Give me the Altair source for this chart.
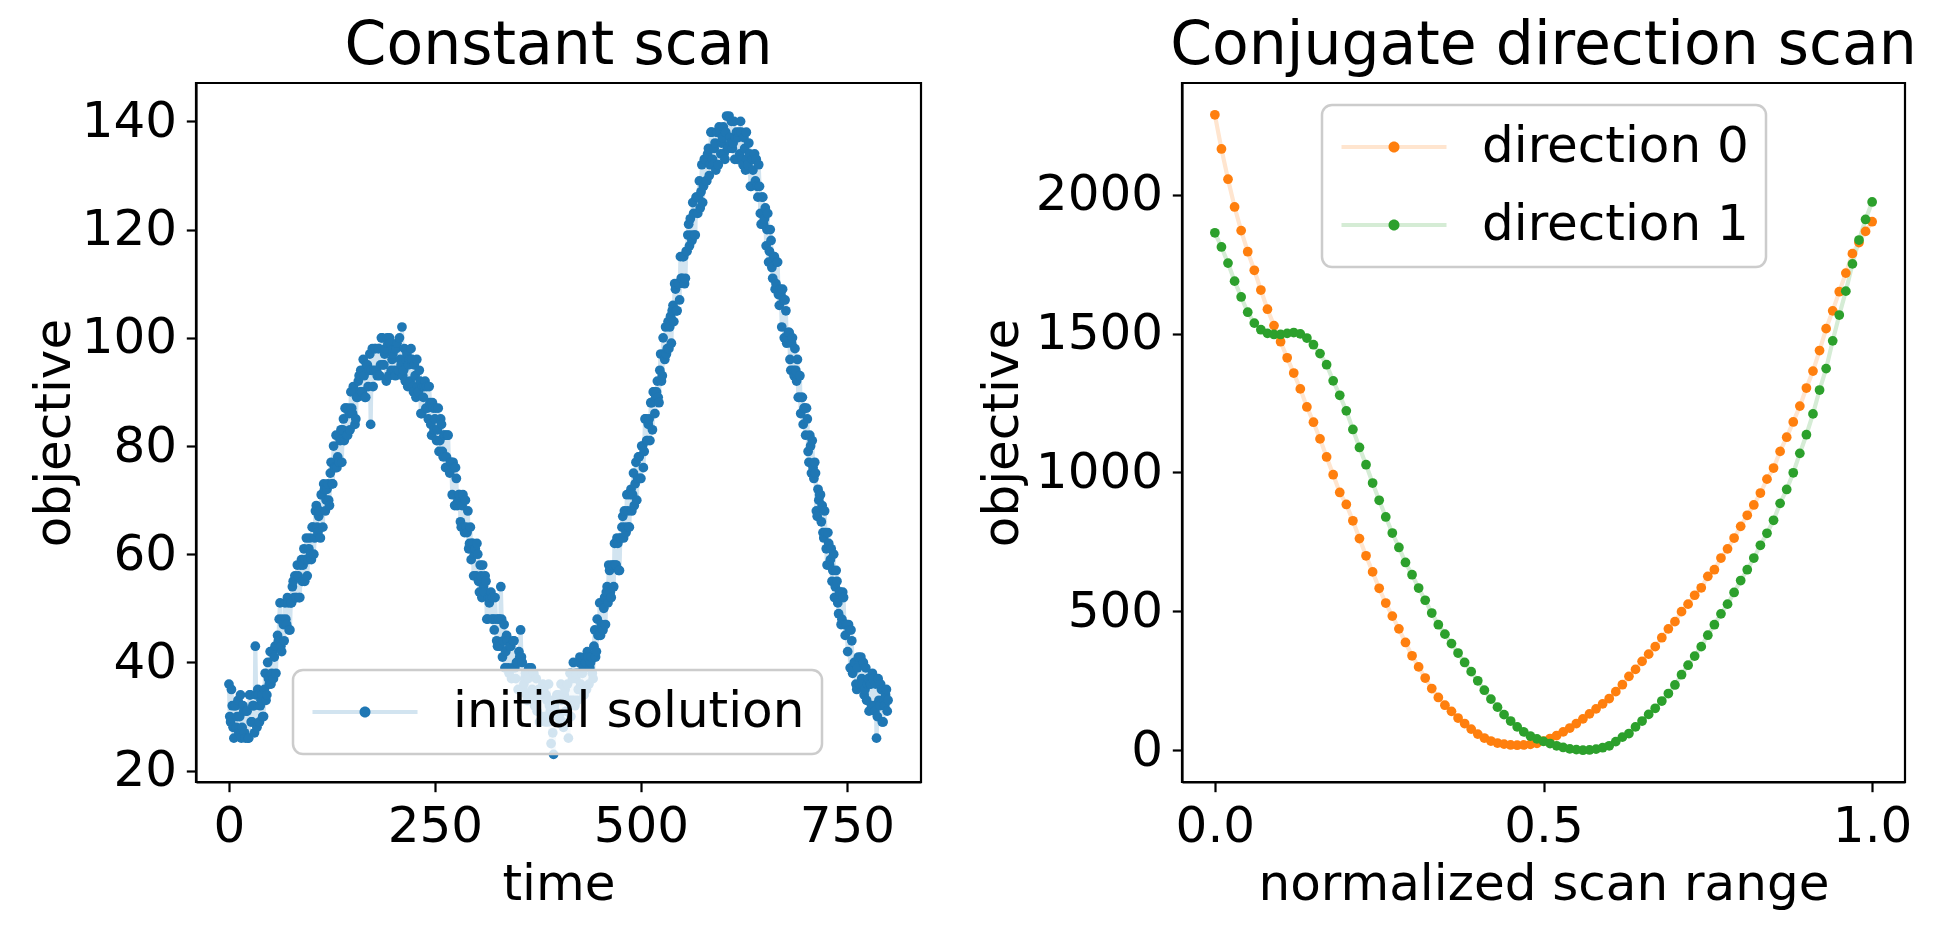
import altair as alt
import pandas as pd

# ---------------- data: Constant scan (left) ----------------
time = list(range(0, 801))
initial_solution = [
    36, 30, 29, 35, 32, 28, 26, 32, 32, 28, 30, 33, 27, 30, 34, 26, 28, 32, 31, 27,        # t 0-19
    26, 31, 31, 26, 26, 34, 34, 29, 29, 32, 32, 27, 43, 34, 28, 35, 34, 29, 32, 33,        # 20-39
    34, 30, 30, 35, 38, 33, 34, 40, 37, 36, 42, 36, 38, 42, 37, 41, 43, 38, 43, 45,        # 40-59
    44, 48, 51, 43, 42, 48, 47, 44, 51, 48, 47, 52, 51, 46, 46, 51, 51, 54, 55, 52,        # 60-79
    56, 52, 52, 58, 56, 52, 52, 58, 59, 55, 58, 61, 55, 59, 63, 56, 59, 61, 63, 60,        # 80-99
    59, 65, 65, 60, 63, 68, 69, 65, 64, 67, 68, 63, 71, 71, 65, 73, 72, 68, 70, 72,        # 100-119
    73, 70, 69, 75, 77, 73, 73, 80, 76, 76, 82, 76, 78, 82, 77, 81, 83, 77, 83, 85,        # 120-139
    81, 87, 87, 82, 82, 87, 86, 83, 90, 87, 86, 91, 90, 84, 85, 89, 89, 92, 93, 90,        # 140-159
    94, 90, 90, 96, 93, 89, 89, 95, 95, 91, 94, 97, 84, 94, 98, 91, 94, 98, 98, 94,        # 160-179
    93, 98, 98, 93, 95, 100, 100, 95, 95, 97, 98, 92, 100, 99, 93, 100, 99, 94, 96, 97,    # 180-199
    98, 94, 93, 98, 99, 94, 94, 100, 96, 95, 102, 93, 94, 98, 92, 96, 97, 91, 95, 96,      # 200-219
    92, 98, 96, 91, 90, 95, 93, 89, 96, 91, 90, 94, 92, 86, 86, 91, 89, 91, 92, 87,        # 220-239
    91, 87, 85, 91, 88, 84, 82, 88, 87, 83, 85, 87, 81, 83, 87, 79, 81, 85, 84, 79,        # 240-259
    78, 82, 82, 76, 78, 82, 82, 76, 75, 77, 77, 71, 77, 76, 69, 76, 74, 69, 70, 71,        # 260-279
    71, 66, 65, 69, 71, 65, 64, 70, 65, 64, 68, 61, 62, 65, 59, 62, 62, 56, 60, 61,        # 280-299
    56, 62, 60, 55, 53, 58, 56, 52, 58, 54, 53, 56, 55, 48, 48, 52, 51, 52, 53, 48,        # 300-319
    52, 48, 46, 52, 48, 44, 43, 48, 48, 43, 54, 48, 41, 44, 47, 39, 42, 45, 44, 39,        # 320-339
    38, 43, 43, 37, 39, 44, 44, 39, 37, 40, 40, 35, 42, 41, 46, 41, 40, 35, 36, 37,        # 340-359
    38, 34, 33, 37, 39, 34, 34, 39, 35, 34, 38, 32, 33, 37, 31, 34, 35, 29, 34, 34,        # 360-379
    30, 36, 35, 30, 29, 34, 33, 29, 36, 32, 31, 25, 33, 27, 23, 32, 31, 33, 34, 30,        # 380-399
    34, 30, 29, 36, 33, 29, 28, 34, 35, 31, 33, 36, 26, 33, 38, 30, 33, 37, 40, 33,        # 400-419
    32, 37, 38, 33, 35, 40, 41, 36, 35, 38, 39, 34, 41, 40, 35, 42, 41, 36, 39, 40,        # 420-439
    41, 38, 37, 43, 46, 41, 42, 48, 45, 45, 51, 45, 47, 51, 46, 50, 52, 47, 53, 54,        # 440-459
    51, 58, 57, 53, 52, 58, 58, 54, 62, 58, 58, 63, 62, 57, 57, 63, 63, 65, 67, 63,        # 460-479
    68, 65, 64, 71, 68, 65, 65, 71, 72, 68, 71, 75, 69, 73, 77, 70, 74, 78, 78, 74,        # 480-499
    74, 80, 80, 76, 79, 85, 85, 81, 81, 84, 85, 81, 88, 88, 83, 90, 90, 86, 89, 90,        # 500-519
    92, 89, 88, 94, 97, 92, 93, 100, 97, 96, 102, 97, 98, 103, 98, 102, 104, 99, 105, 106,  # 520-539
    103, 110, 109, 105, 105, 110, 110, 107, 115, 111, 111, 115, 115, 110, 111, 116, 116, 119, 121, 117,  # 540-559
    122, 119, 118, 125, 123, 119, 119, 126, 126, 123, 126, 129, 124, 127, 132, 125, 128, 133, 133, 129,  # 560-579
    129, 134, 135, 130, 132, 138, 138, 133, 132, 135, 136, 131, 138, 138, 132, 139, 138, 134, 136, 137,  # 580-599
    139, 134, 133, 138, 141, 135, 135, 141, 137, 136, 140, 135, 136, 140, 133, 137, 138, 133, 137, 138,  # 600-619
    134, 140, 138, 133, 132, 137, 135, 131, 138, 133, 132, 136, 134, 128, 128, 133, 131, 133, 134, 129,  # 620-639
    133, 128, 126, 132, 128, 123, 121, 126, 126, 121, 122, 124, 117, 120, 123, 114, 116, 120, 118, 113,  # 640-659
    111, 115, 115, 109, 110, 114, 114, 108, 106, 109, 108, 102, 109, 107, 100, 107, 105, 99, 100, 101,   # 660-679
    101, 96, 94, 99, 100, 94, 93, 98, 94, 92, 96, 89, 89, 93, 86, 89, 89, 84, 87, 87,      # 680-699
    82, 87, 85, 79, 77, 82, 80, 75, 81, 76, 74, 77, 75, 68, 67, 72, 70, 71, 71, 66,        # 700-719
    69, 64, 63, 68, 64, 61, 58, 64, 62, 58, 59, 61, 55, 57, 60, 52, 54, 57, 55, 51,        # 720-739
    49, 53, 53, 47, 48, 53, 52, 47, 45, 47, 47, 42, 47, 46, 39, 46, 44, 38, 39, 40,        # 740-759
    40, 36, 35, 39, 41, 36, 36, 41, 37, 36, 40, 34, 35, 39, 33, 36, 37, 31, 36, 36,        # 760-779
    32, 38, 37, 32, 31, 36, 26, 30, 37, 33, 32, 36, 35, 29, 29, 33, 32, 34, 35, 31,        # 780-799
    33,                                                                                    # 800
]

# ---------------- data: Conjugate direction scan (right) ----------------
scan_range = [round(i / 100, 2) for i in range(101)]
direction_0 = [
    2288, 2165, 2056, 1956, 1871, 1795, 1728, 1657, 1588, 1529,
    1471, 1413, 1358, 1301, 1236, 1181, 1121, 1056, 992, 928,
    885, 826, 762, 700, 642, 583, 530, 483, 437, 388,
    340, 300, 260, 222, 190, 162, 140, 116, 96, 76,
    58, 44, 33, 26, 22, 19, 18, 19, 21, 25,
    33, 42, 53, 66, 80, 96, 113, 131, 149, 167,
    186, 211, 236, 266, 291, 320, 346, 373, 405, 437,
    463, 499, 526, 558, 585, 626, 650, 692, 725, 764,
    806, 846, 883, 926, 976, 1016, 1076, 1127, 1182, 1239,
    1304, 1365, 1439, 1518, 1582, 1651, 1718, 1788, 1828, 1868,
    1903,
]
direction_1 = [
    1863, 1812, 1754, 1689, 1632, 1577, 1538, 1514, 1501, 1497,
    1497, 1501, 1504, 1499, 1484, 1460, 1428, 1388, 1330, 1278,
    1222, 1155, 1090, 1028, 962, 900, 840, 782, 730, 676,
    632, 584, 540, 494, 452, 418, 384, 350, 316, 283,
    250, 216, 184, 155, 128, 105, 84, 66, 51, 41,
    32, 24, 16, 10, 5, 2, 0, 1, 4, 9,
    16, 31, 47, 60, 84, 105, 129, 151, 177, 204,
    235, 272, 306, 339, 373, 414, 452, 491, 526, 568,
    611, 650, 692, 738, 781, 828, 889, 939, 999, 1069,
    1136, 1211, 1297, 1374, 1474, 1567, 1653, 1751, 1837, 1911,
    1974,
]
series_names = ["direction 0", "direction 1"]
line_colors_right = ["#ffe5cf", "#d5ecd5"]
dot_colors_right = ["#ff7f0e", "#2ca02c"]

# ---------------- style ----------------
FONT = "DejaVu Sans"
LINE_W = 4.2
DOT = 95
DOT_PATH = "M-0.105,0A0.105,0.105,0,1,0,0.105,0A0.105,0.105,0,1,0,-0.105,0Z"


def line_legend(x, y):
    return alt.Legend(
        title=None, orient="none", legendX=x, legendY=y,
        symbolType="stroke", symbolSize=11025, symbolStrokeWidth=LINE_W,
        padding=17, labelOffset=33, rowPadding=28, clipHeight=50,
        fillColor="rgba(255,255,255,0.8)", strokeColor="#cccccc", cornerRadius=10,
        labelFont=FONT, labelFontSize=50, labelLimit=1000, labelColor="black",
    )


def dot_legend(x, y):
    return alt.Legend(
        title=None, orient="none", legendX=x, legendY=y,
        symbolType=DOT_PATH, symbolSize=11025, symbolStrokeWidth=LINE_W,
        symbolStrokeColor="transparent", symbolOpacity=1,
        padding=17, labelOffset=33, rowPadding=28, clipHeight=50,
        strokeColor="transparent",
        labelFont=FONT, labelFontSize=50, labelLimit=1000, labelExpr="''",
    )


def title(text):
    return alt.TitleParams(
        text=text, font=FONT, fontSize=60, fontWeight="normal", color="black",
        anchor="middle", frame="group", baseline="alphabetic", offset=-41.3,
    )


# ---------------- left panel ----------------
left_df = pd.DataFrame({"time": time, "objective": initial_solution})
left_df["series"] = "initial solution"
left_df["series_pt"] = "initial solution"

x_left = alt.X("time:Q", scale=alt.Scale(domain=[-40, 840], nice=False, zero=False),
               axis=alt.Axis(values=[0, 250, 500, 750], format="d", title="time"))
y_left = alt.Y("objective:Q", scale=alt.Scale(domain=[17.9, 147.1], nice=False, zero=False),
               axis=alt.Axis(values=[20, 40, 60, 80, 100, 120, 140], format="d",
                             title="objective", titlePadding=2))

left_line = alt.Chart(left_df).mark_line(strokeWidth=LINE_W).encode(
    x=x_left, y=y_left,
    stroke=alt.Stroke("series:N", scale=alt.Scale(range=["#d2e4f0"]), legend=line_legend(97, 587)),
)
left_pts = alt.Chart(left_df).mark_circle(size=DOT, opacity=1).encode(
    x=x_left, y=y_left,
    fill=alt.Fill("series_pt:N", scale=alt.Scale(range=["#1f77b4"]), legend=dot_legend(97, 587)),
)
left = alt.layer(left_line, left_pts).properties(width=725, height=699, title=title("Constant scan"))

# ---------------- right panel ----------------
right_df = pd.DataFrame({
    "scan": scan_range + scan_range,
    "objective": direction_0 + direction_1,
    "series": [series_names[0]] * len(direction_0) + [series_names[1]] * len(direction_1),
})
right_df["series_pt"] = right_df["series"]

x_right = alt.X("scan:Q", scale=alt.Scale(domain=[-0.05, 1.05], nice=False, zero=False),
                axis=alt.Axis(values=[0, 0.5, 1.0], format=".1f", title="normalized scan range"))
y_right = alt.Y("objective:Q", scale=alt.Scale(domain=[-114.4, 2402.4], nice=False, zero=False),
                axis=alt.Axis(values=[0, 500, 1000, 1500, 2000], format="d",
                              title="objective", titlePadding=8))

right_line = alt.Chart(right_df).mark_line(strokeWidth=LINE_W).encode(
    x=x_right, y=y_right,
    stroke=alt.Stroke("series:N", scale=alt.Scale(range=line_colors_right), legend=line_legend(140, 22)),
)
right_pts = alt.Chart(right_df).mark_circle(size=DOT, opacity=1).encode(
    x=x_right, y=y_right,
    fill=alt.Fill("series_pt:N", scale=alt.Scale(range=dot_colors_right), legend=dot_legend(140, 22)),
)
right = alt.layer(right_line, right_pts).properties(width=723, height=699,
                                                     title=title("Conjugate direction scan"))

chart = (
    alt.hconcat(left, right, spacing=261, bounds="flush")
    .resolve_scale(x="independent", y="independent", stroke="independent", fill="independent")
    .resolve_legend(stroke="independent", fill="independent")
    .properties(padding={"left": 20, "top": 7, "right": 5, "bottom": 5})
    .configure(font=FONT, background="white")
    .configure_view(stroke="black", strokeWidth=2.2)
    .configure_axis(
        labelFont=FONT, labelFontSize=50, labelColor="black", labelPadding=9.7, labelFlush=False,
        titleFont=FONT, titleFontSize=50, titleFontWeight="normal", titleColor="black",
        tickColor="black", tickWidth=2.2, tickSize=9.7,
        domainColor="black", domainWidth=2.2, grid=False,
    )
    .configure_axisX(titlePadding=8)
    .configure_legend(strokeWidth=2.5)
)

chart.save("out.html", embed_options={"renderer": "svg", "actions": False})
